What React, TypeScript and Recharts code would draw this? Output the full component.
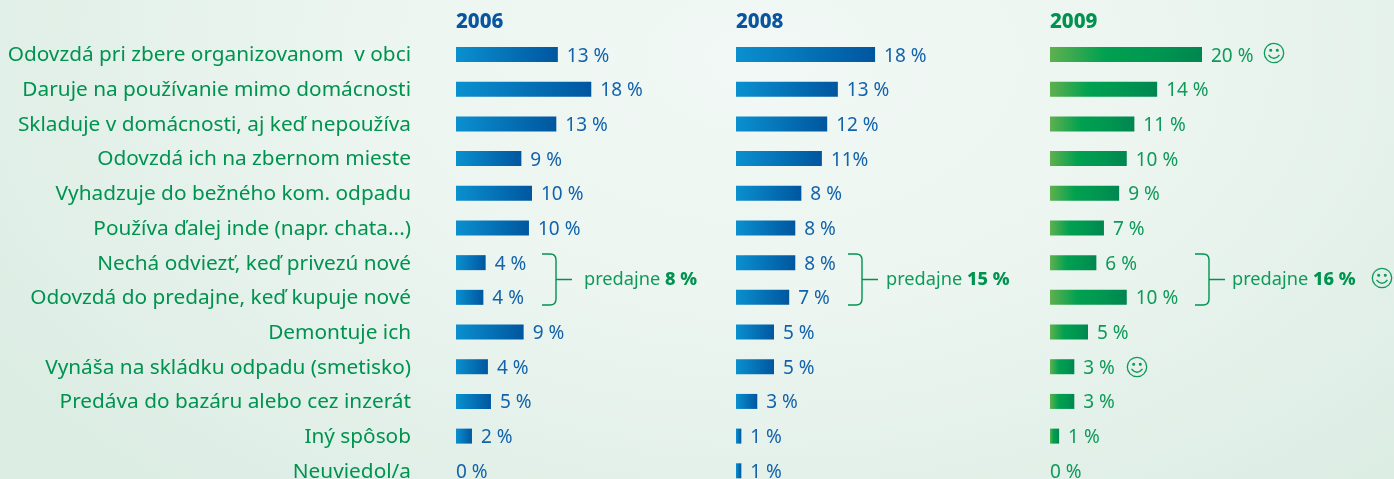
import React from "react";
import { BarChart, Bar, XAxis, YAxis, LabelList } from "recharts";

const categories = [
  "Odovzdá pri zbere organizovanom  v obci",
  "Daruje na používanie mimo domácnosti",
  "Skladuje v domácnosti, aj keď nepoužíva",
  "Odovzdá ich na zbernom mieste",
  "Vyhadzuje do bežného kom. odpadu",
  "Používa ďalej inde (napr. chata...)",
  "Nechá odviezť, keď privezú nové",
  "Odovzdá do predajne, keď kupuje nové",
  "Demontuje ich",
  "Vynáša na skládku odpadu (smetisko)",
  "Predáva do bazáru alebo cez inzerát",
  "Iný spôsob",
  "Neuviedol/a",
];
const bars2006 = [13.4, 17.8, 13.2, 8.6, 10, 9.6, 3.9, 3.6, 8.9, 4.2, 4.6, 2.1, 0];
const bars2008 = [18.3, 13.4, 12, 11.3, 8.6, 7.8, 7.8, 7, 5, 5, 2.8, 0.7, 0.7];
const bars2009 = [20, 14.1, 11.1, 10.1, 9.1, 7.1, 6.1, 10.1, 5, 3.2, 3.2, 1.2, 0];
const labels2006 = ["13 %", "18 %", "13 %", "9 %", "10 %", "10 %", "4 %", "4 %", "9 %", "4 %", "5 %", "2 %", "0 %"];
const labels2008 = ["18 %", "13 %", "12 %", "11%", "8 %", "8 %", "8 %", "7 %", "5 %", "5 %", "3 %", "1 %", "1 %"];
const labels2009 = ["20 %", "14 %", "11 %", "10 %", "9 %", "7 %", "6 %", "10 %", "5 %", "3 %", "3 %", "1 %", "0 %"];

const FONT = "'Noto Sans', sans-serif";
const BLUE_TEXT = "#1263ab";
const GREEN_TEXT = "#0f9a5a";
const GREEN = "#00934f";
const H = 451;

function makeTable(bars: number[], labels: string[]) {
  return categories.map((name, i) => ({ name, value: bars[i], label: labels[i] }));
}

function CategoryTick(props: any) {
  const { x, y, payload } = props;
  return (
    <text x={x} y={y} dy={7} textAnchor="end" fill={GREEN} fontFamily={FONT} fontSize={20.8} style={{ whiteSpace: "pre" }}>
      {payload.value}
    </text>
  );
}

function Panel(props: { left: number; bars: number[]; labels: string[]; grad: string; color: string; axis?: boolean }) {
  const { left, bars, labels, grad, color, axis } = props;
  const data = makeTable(bars, labels);
  const axisW = axis ? 456 : 0;
  return (
    <div style={{ position: "absolute", left, top: 37 }}>
      <BarChart width={axisW + 304} height={H} data={data} layout="vertical" margin={{ top: 0, right: 0, bottom: 0, left: 0 }} barCategoryGap={0}>
        <defs>
          <linearGradient id="gBlue" x1="0" y1="0" x2="1" y2="0">
            <stop offset="0" stopColor="#0a90cf" />
            <stop offset="1" stopColor="#00569f" />
          </linearGradient>
          <linearGradient id="gGreen" x1="0" y1="0" x2="1" y2="0">
            <stop offset="0" stopColor="#5fb04e" />
            <stop offset="0.36" stopColor="#00a150" />
            <stop offset="0.7" stopColor="#009650" />
            <stop offset="1" stopColor="#008650" />
          </linearGradient>
        </defs>
        <XAxis type="number" domain={[0, 40]} hide />
        <YAxis
          type="category"
          dataKey="name"
          width={axisW}
          hide={!axis}
          axisLine={false}
          tickLine={false}
          tickMargin={45}
          tickSize={0}
          interval={0}
          tick={CategoryTick as any}
        />
        <Bar dataKey="value" fill={`url(#${grad})`} barSize={15} minPointSize={0.01} isAnimationActive={false}>
          <LabelList
            dataKey="label"
            content={(p: any) => {
              const w = Number(p.width);
              const gap = w > 1 ? 9 : 0;
              return (
                <text x={Number(p.x) + w + gap} y={Number(p.y) + Number(p.height) / 2 + 7} fill={color} fontFamily={FONT} fontSize={19}>
                  {p.value}
                </text>
              );
            }}
          />
        </Bar>
      </BarChart>
    </div>
  );
}

function Brace({ x, top, bottom, color }: { x: number; top: number; bottom: number; color: string }) {
  const mid = (top + bottom) / 2;
  return (
    <path
      d={`M${x - 14} ${top} H${x - 6} Q${x} ${top} ${x} ${top + 6} V${bottom - 6} Q${x} ${bottom} ${x - 6} ${bottom} H${x - 14} M${x} ${mid} H${x + 16}`}
      fill="none"
      stroke={color}
      strokeWidth={1.4}
    />
  );
}

function Smiley({ cx, cy }: { cx: number; cy: number }) {
  return (
    <g fill="none" stroke="#0f9a5a" strokeWidth={1.3}>
      <circle cx={cx} cy={cy} r={9.7} />
      <circle cx={cx - 3.3} cy={cy - 2.8} r={0.9} fill="#0f9a5a" />
      <circle cx={cx + 3.3} cy={cy - 2.8} r={0.9} fill="#0f9a5a" />
      <path d={`M${cx - 5.5} ${cy + 2} Q${cx} ${cy + 8.5} ${cx + 5.5} ${cy + 2}`} />
    </g>
  );
}

function Shop({ x, value }: { x: number; value: string }) {
  return (
    <text x={x} y={285} fill={GREEN_TEXT} fontFamily={FONT} fontSize={18.2}>
      predajne <tspan fontWeight={800} fill={GREEN}>{value}</tspan>
    </text>
  );
}

export default function App() {
  return (
    <div
      style={{
        position: "fixed",
        left: 0,
        top: 0,
        width: 1394,
        height: 479,
        overflow: "hidden",
        background:
          "radial-gradient(ellipse 900px 560px at 760px 60px, #f1f8f5 0%, #ecf5f0 45%, #dcede4 100%)",
      }}
    >
      <Panel left={0} bars={bars2006} labels={labels2006} grad="gBlue" color={BLUE_TEXT} axis />
      <Panel left={736} bars={bars2008} labels={labels2008} grad="gBlue" color={BLUE_TEXT} />
      <Panel left={1050} bars={bars2009} labels={labels2009} grad="gGreen" color={GREEN_TEXT} />
      <svg width={1394} height={479} style={{ position: "absolute", left: 0, top: 0, pointerEvents: "none" }}>
        <g fontFamily={FONT} fontWeight={800} fontSize={20.5}>
          <text x={456} y={28} fill="#0a559f">2006</text>
          <text x={736} y={28} fill="#0a559f">2008</text>
          <text x={1050} y={28} fill={GREEN}>2009</text>
        </g>
        <Brace x={556} top={254} bottom={305} color={GREEN} />
        <Brace x={862} top={254} bottom={305} color={GREEN} />
        <Brace x={1209} top={254} bottom={305} color={GREEN} />
        <Shop x={584} value="8 %" />
        <Shop x={886} value="15 %" />
        <Shop x={1232} value="16 %" />
        <Smiley cx={1274} cy={53} />
        <Smiley cx={1137} cy={367} />
        <Smiley cx={1382} cy={278} />
      </svg>
    </div>
  );
}
